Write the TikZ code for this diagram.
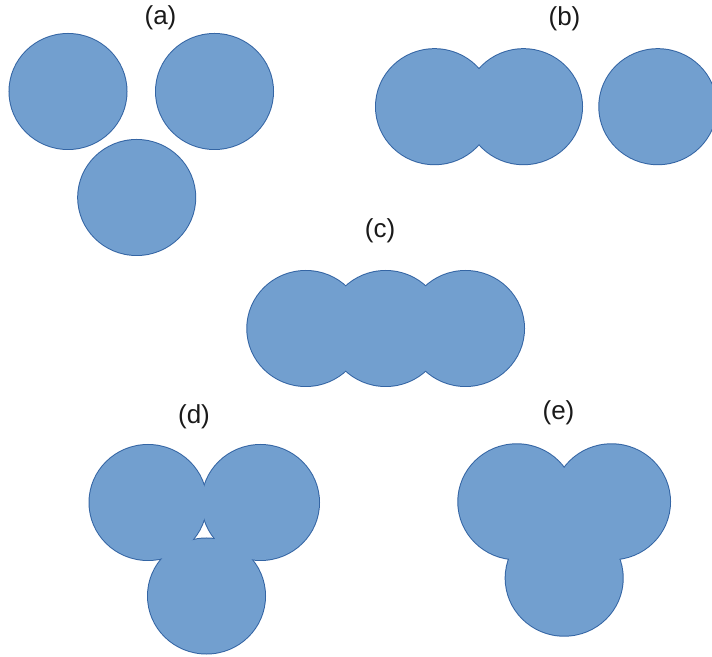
\documentclass[tikz,border=0pt]{standalone}
\usepackage{fontspec}
\setmainfont{Liberation Sans}

\tikzset{
  rim/.style={draw=drawColor,line width=2pt},
  body/.style={fill=fillColor},
  caption/.style={text=textColor,anchor=center,inner sep=0pt,outer sep=0pt,font=\fontsize{26}{30}\selectfont}
}

\begin{document}
\begin{tikzpicture}[x=1pt,y=1pt]
\definecolor{fillColor}{RGB}{255,255,255}
\path[use as bounding box,fill=fillColor] (0,0) rectangle (712,656);
\begin{scope}
\path[clip] (0,0) rectangle (712,656);
\definecolor{drawColor}{RGB}{52,101,164}
\definecolor{fillColor}{RGB}{114,159,207}

\path[rim] ( 68.00,564.50) ellipse (58.5pt and 57.5pt);
\path[rim] (214.50,564.50) ellipse (58.5pt and 57.5pt);
\path[rim] (136.70,458.50) ellipse (58.5pt and 57.5pt);
\path[body] ( 68.00,564.50) ellipse (58.5pt and 57.5pt);
\path[body] (214.50,564.50) ellipse (58.5pt and 57.5pt);
\path[body] (136.70,458.50) ellipse (58.5pt and 57.5pt);

\path[rim] (434.50,549.30) ellipse (58.5pt and 57.5pt);
\path[rim] (523.50,549.30) ellipse (58.5pt and 57.5pt);
\path[rim] (657.80,549.30) ellipse (58.5pt and 57.5pt);
\path[body] (434.50,549.30) ellipse (58.5pt and 57.5pt);
\path[body] (523.50,549.30) ellipse (58.5pt and 57.5pt);
\path[body] (657.80,549.30) ellipse (58.5pt and 57.5pt);

\path[rim] (305.80,327.50) ellipse (58.5pt and 57.5pt);
\path[rim] (385.70,327.50) ellipse (58.5pt and 57.5pt);
\path[rim] (465.50,327.50) ellipse (58.5pt and 57.5pt);
\path[body] (305.80,327.50) ellipse (58.5pt and 57.5pt);
\path[body] (385.70,327.50) ellipse (58.5pt and 57.5pt);
\path[body] (465.50,327.50) ellipse (58.5pt and 57.5pt);

\path[rim] (148.00,153.50) ellipse (58.5pt and 57.5pt);
\path[rim] (260.50,153.50) ellipse (58.5pt and 57.5pt);
\path[rim] (206.50, 60.00) ellipse (58.5pt and 57.5pt);
\path[body] (148.00,153.50) ellipse (58.5pt and 57.5pt);
\path[body] (260.50,153.50) ellipse (58.5pt and 57.5pt);
\path[body] (206.50, 60.00) ellipse (58.5pt and 57.5pt);

\path[rim] (516.80,154.20) ellipse (58.5pt and 57.5pt);
\path[rim] (611.50,154.20) ellipse (58.5pt and 57.5pt);
\path[rim] (564.20, 77.80) ellipse (58.5pt and 57.5pt);
\path[body] (516.80,154.20) ellipse (58.5pt and 57.5pt);
\path[body] (611.50,154.20) ellipse (58.5pt and 57.5pt);
\path[body] (564.20, 77.80) ellipse (58.5pt and 57.5pt);
\end{scope}
\begin{scope}
\definecolor{textColor}{RGB}{26,26,26}

\node[caption] (capA) at (160.50,638.50) {(a)};

\node[caption] (capB) at (564.50,637.00) {(b)};

\node[caption] (capC) at (380.00,425.00) {(c)};

\node[caption] (capD) at (194.00,239.50) {(d)};

\node[caption] (capE) at (558.50,243.50) {(e)};
\end{scope}
\end{tikzpicture}
\end{document}
